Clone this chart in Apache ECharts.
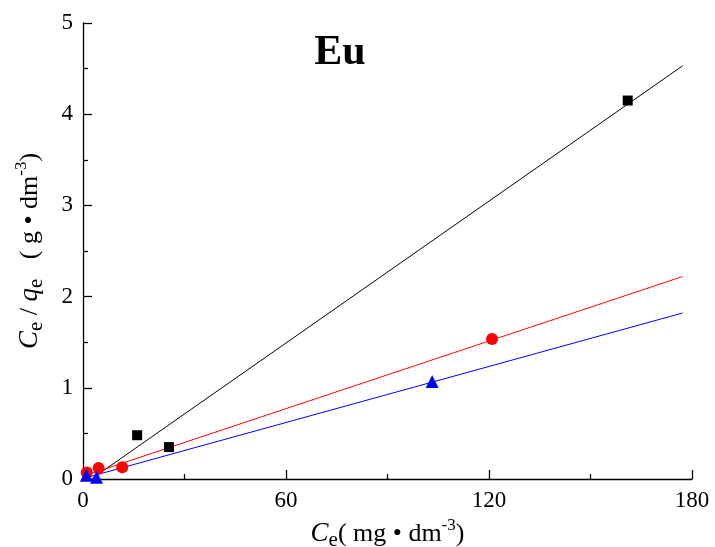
<!DOCTYPE html>
<html>
<head>
<meta charset="utf-8">
<script src="https://cdn.jsdelivr.net/npm/echarts@6/dist/echarts.min.js"></script>
<style>
  html, body { margin: 0; padding: 0; background: #fff; }
  #chart { width: 715px; height: 547px; }
</style>
</head>
<body>
<div id="chart"></div>
<script>
  // 散点数据 [Ce, Ce/qe]
  var blackPts = [[16.0, 0.48], [25.4, 0.35], [161.0, 4.15]]
  var redPts = [[1.1, 0.07], [4.6, 0.12], [11.6, 0.13], [120.9, 1.535]]
  var bluePts = [[1.0, 0.04], [4.0, 0.02], [103.2, 1.07]]
  // 拟合直线
  var blackFit = [[2.5, 0], [177.2, 4.53]]
  var redFit = [[0, 0.03], [177.2, 2.22]]
  var blueFit = [[0, 0.005], [177.2, 1.82]]
  var xTicks = [0, 60, 120, 180]
  var yTicks = [0, 1, 2, 3, 4, 5]

  var serif = '"Liberation Serif", "DejaVu Serif", serif'
  var chart = echarts.init(document.getElementById('chart'))

  var nameRich = {
    it: { fontFamily: serif, fontStyle: 'italic', fontSize: 27, color: '#000', lineHeight: 34, verticalAlign: 'middle' },
    n: { fontFamily: serif, fontSize: 26, color: '#000', lineHeight: 34, verticalAlign: 'middle' },
    sub: { fontFamily: serif, fontSize: 21, color: '#000', lineHeight: 20, verticalAlign: 'bottom' },
    sup: { fontFamily: serif, fontSize: 17, color: '#000', lineHeight: 17, verticalAlign: 'top' }
  }

  function scatter(data, symbol, size, color) {
    return {
      type: 'scatter',
      data: data,
      symbol: symbol,
      symbolSize: size,
      itemStyle: { color: color, opacity: 1 },
      z: 3
    }
  }
  function fit(data, color) {
    return {
      type: 'line',
      data: data,
      showSymbol: false,
      symbol: 'none',
      lineStyle: { color: color, width: 1 },
      z: 2
    }
  }

  var option = {
    animation: false,
    grid: { left: 83, right: 23, top: 23, bottom: 68, outerBoundsMode: 'none' },
    graphic: [{
      type: 'text',
      x: 340,
      y: 53,
      style: {
        text: 'Eu',
        font: 'bold 42px ' + serif,
        fill: '#000',
        textAlign: 'center',
        textVerticalAlign: 'middle'
      }
    }],
    xAxis: {
      type: 'value',
      min: 0,
      max: 180,
      interval: 60,
      name: '{it|C}{sub|e}{n|( mg • dm}{sup|-3}{n|)}',
      nameLocation: 'middle',
      nameGap: 33,
      nameTextStyle: { rich: nameRich },
      axisLine: { lineStyle: { color: '#000', width: 1.3 } },
      axisTick: { inside: true, length: 9, lineStyle: { color: '#000', width: 1.3 } },
      minorTick: { show: true, splitNumber: 2, length: 5, lineStyle: { color: '#000', width: 1.3 } },
      splitLine: { show: false },
      axisLabel: {
        margin: 10,
        fontFamily: serif,
        fontSize: 23,
        color: '#000',
        customValues: xTicks
      }
    },
    yAxis: {
      type: 'value',
      min: 0,
      max: 5,
      interval: 1,
      name: '{it|C}{sub|e}{n| / }{it|q}{sub|e}{n|   ( g • dm}{sup|-3}{n|)}',
      nameLocation: 'middle',
      nameRotate: 90,
      nameGap: 36,
      nameTextStyle: { rich: nameRich },
      axisLine: { show: true, lineStyle: { color: '#000', width: 1.3 } },
      axisTick: { show: true, inside: true, length: 9, lineStyle: { color: '#000', width: 1.3 } },
      minorTick: { show: true, splitNumber: 2, length: 5, lineStyle: { color: '#000', width: 1.3 } },
      splitLine: { show: false },
      axisLabel: {
        margin: 10,
        fontFamily: serif,
        fontSize: 23,
        color: '#000',
        customValues: yTicks
      }
    },
    series: [
      fit(blackFit, '#000'),
      fit(redFit, '#ff0000'),
      fit(blueFit, '#0000ff'),
      scatter(blackPts, 'rect', 10, '#000'),
      scatter(redPts, 'circle', 12, '#ff0000'),
      scatter(bluePts, 'triangle', 13, '#0000ff')
    ]
  }
  chart.setOption(option)
</script>
</body>
</html>
